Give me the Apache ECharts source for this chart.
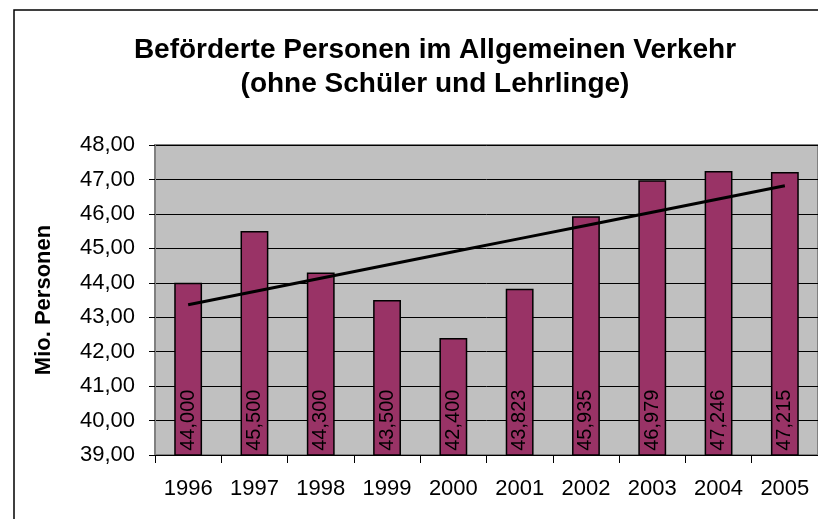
<!DOCTYPE html>
<html>
<head>
<meta charset="utf-8">
<script src="https://cdn.jsdelivr.net/npm/echarts@6/dist/echarts.min.js"></script>
<style>
  html, body { margin: 0; padding: 0; background: #fff; }
  #chart { width: 818px; height: 519px; }
</style>
</head>
<body>
<div id="chart"></div>
<script>
// Daten (Mio. Personen)
var years = ['1996', '1997', '1998', '1999', '2000', '2001', '2002', '2003', '2004', '2005'];
var persons = [44.000, 45.500, 44.300, 43.500, 42.400, 43.823, 45.935, 46.979, 47.246, 47.215];
var yMin = 39, yMax = 48, yStep = 1;

// lineare Trendlinie (wie in Excel) aus den Daten
function trend (vals) {
  var n = vals.length, sx = 0, sy = 0, sxy = 0, sxx = 0;
  vals.forEach(function (v, i) { sx += i; sy += v; sxy += i * v; sxx += i * i; });
  var b = (n * sxy - sx * sy) / (n * sxx - sx * sx);
  var a = (sy - b * sx) / n;
  return vals.map(function (v, i) { return a + b * i; });
}

function comma (v, d) {
  return v.toFixed(d).replace('.', ',');
}

var chart = echarts.init(document.getElementById('chart'));
var option = {
  animation: false,
  textStyle: { fontFamily: 'Arial, "Liberation Sans", sans-serif' },
  graphic: [{
    type: 'rect',
    shape: { x: 14, y: 10, width: 820, height: 530 },
    style: { fill: null, stroke: '#000', lineWidth: 1.5 },
    silent: true
  }],
  title: {
    text: 'Beförderte Personen im Allgemeinen Verkehr\n(ohne Schüler und Lehrlinge)',
    left: 430,
    top: 28,
    textAlign: 'center',
    textStyle: {
      fontSize: 28,
      fontWeight: 'bold',
      color: '#000',
      lineHeight: 34,
      fontFamily: 'Arial, "Liberation Sans", sans-serif'
    }
  },
  grid: {
    left: 155,
    top: 145,
    right: -5,
    bottom: 64,
    show: true,
    backgroundColor: '#C0C0C0',
    borderColor: '#808080',
    borderWidth: 2
  },
  xAxis: {
    type: 'category',
    data: years,
    boundaryGap: true,
    axisLine: { lineStyle: { color: '#000', width: 1 } },
    axisTick: { show: true, length: 8, lineStyle: { color: '#000' } },
    axisLabel: { color: '#000', fontSize: 22, margin: 23 }
  },
  yAxis: {
    type: 'value',
    min: yMin,
    max: yMax,
    interval: yStep,
    name: 'Mio. Personen',
    nameLocation: 'middle',
    nameRotate: 90,
    nameGap: 100,
    nameTextStyle: { fontSize: 22, fontWeight: 'bold', color: '#000' },
    axisLine: { show: true, lineStyle: { color: '#808080', width: 2 } },
    axisTick: { show: true, length: 6, lineStyle: { color: '#000' } },
    axisLabel: {
      color: '#000',
      fontSize: 22,
      margin: 20,
      formatter: function (v) { return comma(v, 2); }
    },
    splitLine: { show: true, lineStyle: { color: '#000', width: 1 } }
  },
  series: [
    {
      name: 'Personen',
      type: 'bar',
      data: persons,
      barWidth: '42%',
      itemStyle: { color: '#993366', borderColor: '#000', borderWidth: 1.5 },
      label: {
        show: true,
        position: 'insideBottom',
        rotate: 90,
        align: 'left',
        verticalAlign: 'middle',
        distance: 5,
        color: '#000',
        fontSize: 20,
        formatter: function (p) { return comma(p.value, 3); }
      }
    },
    {
      name: 'Trend',
      type: 'line',
      data: trend(persons),
      symbol: 'none',
      z: 5,
      lineStyle: { color: '#000', width: 3 }
    }
  ]
};
chart.setOption(option);
</script>
</body>
</html>
